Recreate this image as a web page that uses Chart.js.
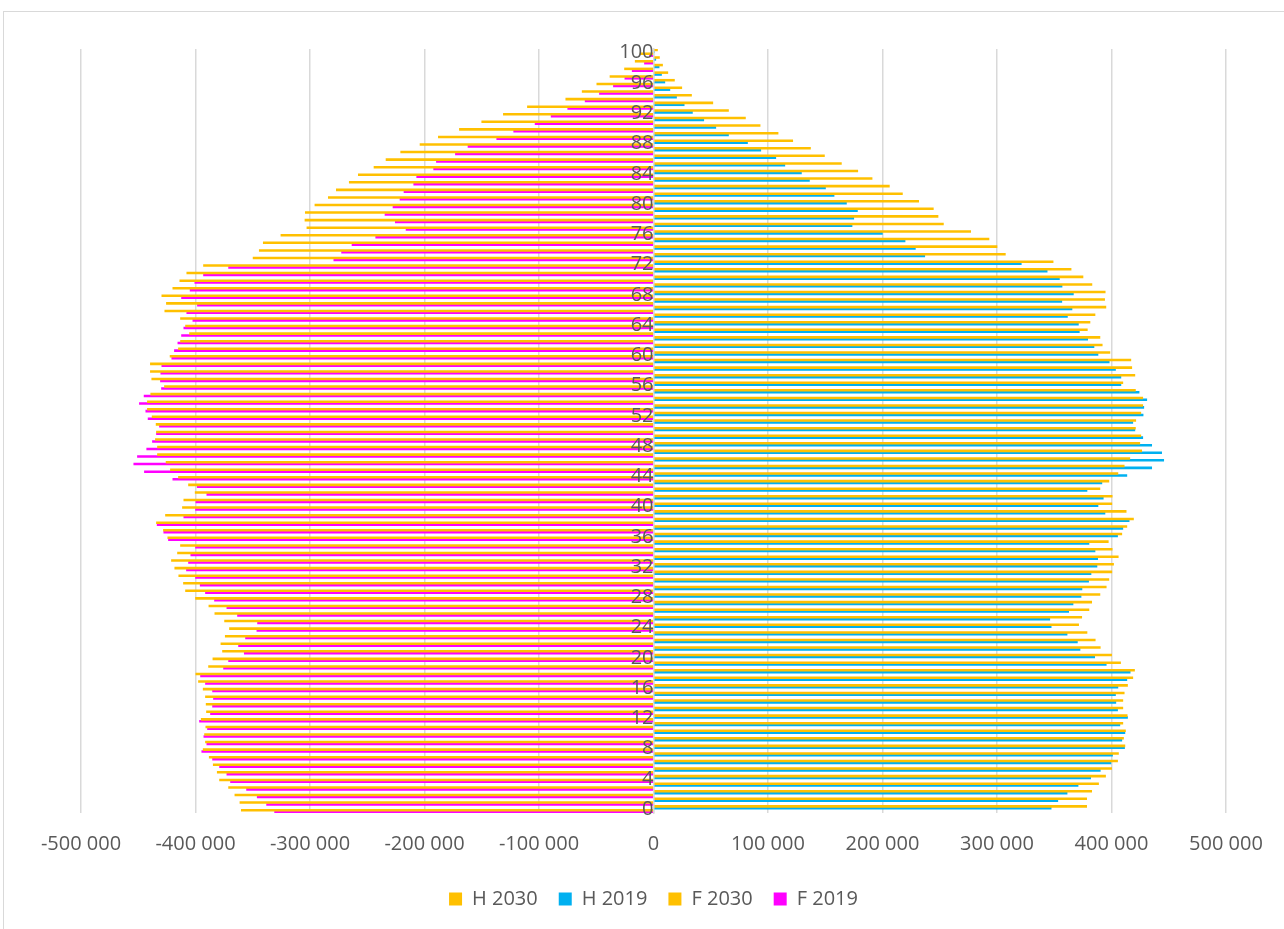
<!DOCTYPE html>
<html>
<head>
<meta charset="utf-8">
<script src="https://cdn.jsdelivr.net/npm/chart.js@4.4.1/dist/chart.umd.min.js"></script>
<style>
  html, body { margin: 0; padding: 0; background: #fff; }
  #wrap { position: relative; width: 1284px; height: 929px; overflow: hidden; }
  #frame { position: absolute; left: 3px; top: 11px; width: 1300px; height: 940px; border: 1px solid #d9d9d9; box-sizing: border-box; }
  canvas { position: absolute; left: 0; top: 0; }
</style>
</head>
<body>
<div id="wrap">
  <div id="frame"></div>
  <canvas id="pyramid" width="1284" height="929"></canvas>
</div>
<script>
// Ages 0..100
const ages = [];
for (let a = 0; a <= 100; a++) ages.push(String(a));

// Hommes 2030 (right, orange)
const h2030 = [
  378300, 378300, 382700, 388700, 394800, 400100, 405300, 406100, 411700, 410500,
  412200, 409900, 413700, 409900, 409900, 411100, 414000, 418600, 420100, 407900,
  400100, 390200, 385800, 378600, 371300, 374000, 380300, 382700, 389900, 395400,
  397700, 400300, 401800, 405900, 400600, 397200, 409000, 413400, 419200, 412800,
  400300, 400600, 389900, 397700, 405600, 411100, 416000, 426400, 424700, 425600,
  420900, 421200, 425600, 427300, 427300, 420900, 409900, 420400, 417700, 416900,
  398600, 391900, 389900, 378900, 381200, 385600, 395100, 394000, 394500, 382900,
  375100, 364700, 349000, 307300, 300000, 293000, 277000, 253200, 248500, 244400,
  231600, 217400, 206000, 190900, 178400, 164100, 149300, 137100, 121600, 108800,
  93100, 80300, 65500, 51800, 33200, 24700, 18300, 12500, 7900, 5200,
  3500
];

// Hommes 2019 (right, blue)
const h2019 = [
  347300, 353100, 361200, 370800, 381800, 390200, 399500, 400900, 411400, 409000,
  411700, 407300, 414000, 405300, 403800, 403500, 405600, 413400, 416300, 395400,
  385300, 372500, 370200, 361200, 347300, 346100, 362600, 366400, 373400, 374200,
  380000, 382100, 387300, 387900, 385600, 380300, 405300, 409900, 415400, 394300,
  388200, 392800, 378600, 391600, 413400, 435100, 445600, 443800, 435100, 427300,
  420400, 418600, 427600, 428200, 430800, 424100, 408200, 408200, 403500, 398000,
  388200, 384700, 379200, 371900, 371100, 361500, 365500, 356600, 366700, 356800,
  354500, 343800, 321200, 236900, 228700, 219700, 199900, 173400, 174900, 178100,
  168500, 157700, 150200, 136200, 129200, 114700, 106800, 93700, 82100, 65500,
  54400, 43900, 34000, 26800, 20100, 14300, 9900, 7000, 4900, 2000,
  500
];

// Femmes 2030 (left, orange) - magnitudes
const f2030 = [
  360000, 361200, 365600, 371100, 379000, 381000, 384500, 388000, 393300, 391300,
  392100, 391000, 395000, 390400, 390700, 391300, 393300, 397400, 399700, 388600,
  384800, 376400, 377800, 374000, 370300, 374600, 383100, 388300, 400000, 408700,
  410500, 414600, 418100, 421000, 415700, 413100, 424200, 428000, 434100, 426200,
  411400, 410200, 400300, 406100, 414900, 421900, 425700, 433200, 433200, 435000,
  434100, 434400, 437900, 442000, 442000, 439100, 427100, 438200, 439400, 439400,
  422200, 414900, 413100, 405200, 408700, 413100, 426800, 425400, 429400, 419800,
  413700, 407600, 393000, 349700, 344300, 340800, 325400, 302700, 304400, 304100,
  295700, 284000, 277000, 265700, 257800, 244100, 233600, 220800, 203900, 187900,
  169500, 150000, 131100, 110100, 76600, 62300, 49500, 38000, 25300, 16000,
  11700
];

// Femmes 2019 (left, magenta) - magnitudes
const f2019 = [
  330900, 337900, 346100, 355400, 369400, 372600, 379000, 385100, 394500, 390100,
  392700, 389500, 396500, 386900, 385100, 384300, 385100, 391300, 395600, 375500,
  371100, 357400, 362400, 356300, 346400, 345800, 363300, 372600, 383400, 391300,
  395900, 400000, 407900, 406100, 404100, 400000, 423600, 427700, 433500, 410200,
  400000, 399700, 390100, 398500, 419800, 444600, 453900, 450700, 442600, 437600,
  434100, 431500, 441400, 443400, 449000, 444900, 429700, 430600, 430300, 429400,
  420700, 418400, 415400, 412200, 410200, 402300, 407600, 398300, 412200, 404700,
  400600, 393000, 371100, 279200, 272400, 263300, 242600, 216100, 225500, 234500,
  227500, 221400, 217900, 209400, 206800, 192000, 189600, 173000, 162000, 136900,
  122100, 103400, 89400, 74900, 59700, 47200, 35000, 25000, 18600, 7900,
  3500
];

const seriesNames = ['H 2030', 'H 2019', 'F 2030', 'F 2019'];
const seriesColors = ['#FFC000', '#00B0F0', '#FFC000', '#FF00FF'];

const axisFont = { family: "'Open Sans', 'Liberation Sans', sans-serif", size: 20 };
const textColor = '#595959';

function formatThousands(v) {
  const sign = v < 0 ? '-' : '';
  return sign + String(Math.abs(v)).replace(/\B(?=(\d{3})+(?!\d))/g, ' ');
}

// women go to the left of the axis
const seriesData = [h2030, h2019, f2030.map(v => -v), f2019.map(v => -v)];

const datasets = seriesNames.map((name, i) => ({
  label: name,
  data: seriesData[i],
  backgroundColor: seriesColors[i],
  borderWidth: 0,
  categoryPercentage: 1,
  barPercentage: 1
}));

new Chart(document.getElementById('pyramid'), {
  type: 'bar',
  data: { labels: ages, datasets: datasets },
  options: {
    indexAxis: 'y',
    responsive: false,
    devicePixelRatio: 1,
    animation: false,
    layout: { padding: { left: 81, right: 58, top: 49, bottom: 10 } },
    plugins: {
      tooltip: { enabled: false },
      legend: {
        position: 'bottom',
        labels: {
          boxWidth: 13,
          boxHeight: 13,
          padding: 21,
          color: textColor,
          font: axisFont
        }
      }
    },
    scales: {
      x: {
        min: -500000,
        max: 500000,
        ticks: {
          stepSize: 100000,
          padding: 19,
          color: textColor,
          font: axisFont,
          maxRotation: 0,
          callback: v => formatThousands(v)
        },
        grid: { color: '#d9d9d9', lineWidth: 1.5, drawTicks: false },
        border: { display: false },
        // pull the legend a bit closer to the tick labels
        afterFit: scale => { scale.height -= 7; }
      },
      y: {
        type: 'category',
        reverse: true,
        position: { x: 0 },
        grid: { display: false, drawTicks: true, tickLength: 23 },
        border: { display: true, color: '#d9d9d9', width: 1.5, z: 1 },
        ticks: {
          autoSkip: false,
          padding: 0,
          z: 1,
          color: textColor,
          font: axisFont,
          callback: function (value, index) {
            return index % 4 === 0 ? this.getLabelForValue(value) : '';
          }
        }
      }
    }
  }
});
</script>
</body>
</html>
